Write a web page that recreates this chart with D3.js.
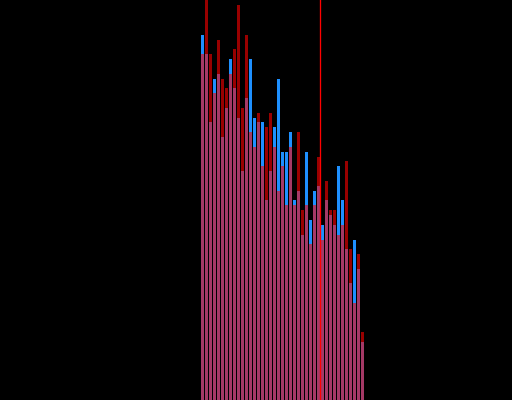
<!DOCTYPE html>
<html>
<head>
<meta charset="utf-8">
<script src="https://cdn.jsdelivr.net/npm/d3@7"></script>
<style>
  html, body { margin: 0; padding: 0; background: #000; overflow: hidden; }
  svg { display: block; }
</style>
</head>
<body>
<script>
const categories = d3.range(41);
const seriesBlue = [91.25, 86.5, 69.5, 80.25, 81.5, 65.75, 73, 85.25, 78, 70.5, 57.25, 75.5, 85.25, 70.5, 69.5, 69.5, 50, 57.25, 68.25, 80.25, 62, 62, 67, 50, 52.25, 41.25, 62, 45, 52.25, 53.5, 43.75, 50, 46.25, 43.75, 58.5, 50, 37.75, 29.25, 40, 32.75, 14.5];
const seriesRed = [86.5, 102, 86.5, 76.75, 90, 80.25, 78, 81.5, 87.75, 98.75, 73, 91.25, 67, 63.25, 71.75, 58.5, 68.25, 71.75, 63.25, 52.25, 58.5, 48.75, 63.25, 48.75, 67, 47.5, 48.75, 39, 48.75, 60.75, 40, 54.75, 47.5, 47.5, 41.25, 43.75, 59.75, 37.75, 24.25, 36.5, 17];
const markerAfter = 29;

const W = 512, H = 400;
const svg = d3.select("body").append("svg").attr("width", W).attr("height", H);
svg.append("rect").attr("width", W).attr("height", H).attr("fill", "#000");

const x = d3.scaleBand().domain(categories).range([200.5, 364.5]).paddingInner(0.25).paddingOuter(0.125);
const y = d3.scaleLinear().domain([0, 100]).range([H, 0]);

svg.append("g").selectAll("rect").data(categories).join("rect")
  .attr("x", d => x(d)).attr("width", x.bandwidth())
  .attr("y", d => y(seriesBlue[d])).attr("height", d => H - y(seriesBlue[d]))
  .attr("fill", "#1e90ff");

svg.append("g").selectAll("rect").data(categories).join("rect")
  .attr("x", d => x(d)).attr("width", x.bandwidth())
  .attr("y", d => y(seriesRed[d])).attr("height", d => H - y(seriesRed[d]))
  .attr("fill", "#ff0000").attr("fill-opacity", 0.6);

const lx = x(markerAfter) + x.bandwidth() + (x.step() - x.bandwidth()) / 2;
svg.append("line").attr("x1", lx).attr("x2", lx).attr("y1", 0).attr("y2", H)
  .attr("stroke", "#ff0000").attr("stroke-width", 1.3);
</script>
</body>
</html>
